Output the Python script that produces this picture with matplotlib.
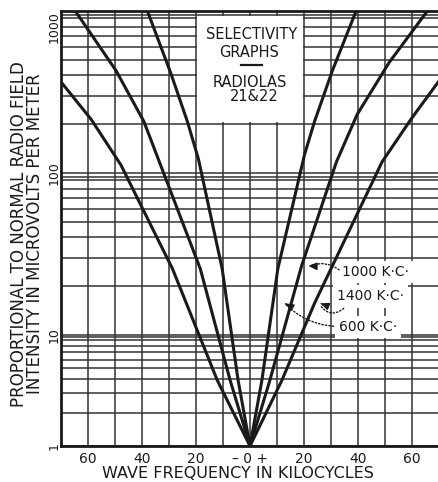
import numpy as np
import matplotlib
matplotlib.use("Agg")
import matplotlib.pyplot as plt
from matplotlib.ticker import FixedLocator, NullFormatter
from matplotlib.patches import Rectangle

# kilocycles off resonance  vs  field needed (microvolts per meter)
kc_600 = [-38.0, -29.4, -23.2, -19.1, -10.3, -4.4, 0, 4.4, 10.3, 20.2, 23.9, 30.5, 39.3]
uv_600 = [1000, 416, 208, 122, 25.6, 3.9, 1, 3.9, 25.6, 130, 208, 428, 1000]

kc_1000 = [-64.7, -49.6, -39.3, -18.4, -7.35, 0, 7.35, 19.1, 32.0, 39.7, 51.5, 65.4]
uv_1000 = [1000, 428, 208, 25.6, 3.9, 1, 3.9, 26.7, 117, 230, 480, 985]

kc_1400 = [-70.0, -58.8, -47.8, -28.7, -12.1, 0, 11.8, 23.9, 48.9, 59.9, 70.0]
uv_1400 = [365, 214, 112, 25.6, 3.9, 1, 3.9, 15.7, 117, 218, 370]

xtick_pos = [-60, -40, -20, 0, 20, 40, 60]
xtick_lab = ["60", "40", "20", "\u2013 0 +", "20", "40", "60"]
ytick_pos = [1, 10, 100, 1000]
ytick_lab = ["1", "10", "100", "1000"]

# the bottom decade of the printed grid is squashed compared to the others
squeeze = 111 / 162.0


def fwd(v):
    t = np.log10(np.clip(v, 1e-6, None))
    return np.where(t >= 1, t, 1 + (t - 1) * squeeze)


def inv(u):
    u = np.asarray(u, dtype=float)
    return np.where(u >= 1, 10.0 ** u, 10.0 ** (1 + (u - 1) / squeeze))


ink = "#1a1a1a"
grid_c = "#333333"

fig = plt.figure(figsize=(4.39, 4.82), dpi=100)
ax = fig.add_axes([61 / 439, 1 - 446 / 482, 1 - 61 / 439, (446 - 11) / 482])

ax.set_yscale("function", functions=(fwd, inv))
ax.set_xlim(-70, 70)
ax.set_ylim(1, 1000)

# grid
minor_y = [d * s for d in (1, 10, 100) for s in (2, 3, 4, 5, 6, 7, 8, 9, 9.5)]
ax.yaxis.set_major_locator(FixedLocator(ytick_pos))
ax.yaxis.set_minor_locator(FixedLocator(minor_y))
ax.yaxis.set_minor_formatter(NullFormatter())
ax.set_yticklabels(ytick_lab, rotation=90, va="center", fontsize=9, color=ink)
ax.get_yticklabels()[-1].set_va("top")

ax.xaxis.set_major_locator(FixedLocator(xtick_pos))
ax.xaxis.set_minor_locator(FixedLocator([-70, -50, -30, -10, 10, 30, 50, 70]))
ax.set_xticklabels(xtick_lab, fontsize=10, color=ink)

ax.tick_params(which="both", length=0)
ax.tick_params(axis="x", pad=4)
ax.tick_params(axis="y", pad=0)
ax.set_axisbelow(True)
ax.grid(which="both", color=grid_c, lw=1.1)

for side in ("left", "bottom", "top", "right"):
    ax.spines[side].set_linewidth(2.0)
    ax.spines[side].set_color(ink)

# curves
for kc, uv in ((kc_600, uv_600), (kc_1000, uv_1000), (kc_1400, uv_1400)):
    ax.plot(kc, uv, color=ink, lw=2.2, solid_joinstyle="round", zorder=3)

# title panel (blank patch over the grid)
ax.add_patch(Rectangle((-19.5, 205), 39, 725, facecolor="white", edgecolor="none", zorder=1))
tkw = dict(transform=ax.transAxes, ha="center", va="baseline", fontsize=10.5, color=ink, zorder=4)
ax.text(0.505, 0.9345, "SELECTIVITY", **tkw)
ax.text(0.497, 0.894, "GRAPHS", **tkw)
ax.text(0.500, 0.825, "RADIOLAS", **tkw)
ax.text(0.510, 0.792, "21&22", **tkw)
ax.plot([0.476, 0.532], [0.876, 0.876], transform=ax.transAxes, color=ink, lw=1.6, zorder=4)

# curve labels with dotted leaders
bb = dict(boxstyle="square,pad=0.3", facecolor="white", edgecolor="none")
lkw = dict(ha="left", va="baseline", fontsize=10, color=ink, zorder=4, bbox=bb)
ax.text(34.2, 23.2, "1000 K\u00b7C\u00b7", **lkw)
ax.text(32.3, 16.35, "1400 K\u00b7C\u00b7", **lkw)
ax.text(32.9, 10.6, "600 K\u00b7C\u00b7", **lkw)

akw = dict(arrowstyle="-", linestyle=(0, (1, 1.5)), color=ink, lw=1.0)
ax.annotate("", xy=(22.0, 26.7), xytext=(33.8, 24.6),
            arrowprops=dict(connectionstyle="arc3,rad=0.3", **akw), zorder=5)
ax.annotate("", xy=(25.5, 15.7), xytext=(35.5, 15.0),
            arrowprops=dict(connectionstyle="arc3,rad=-0.6", **akw), zorder=5)
ax.annotate("", xy=(12.5, 15.9), xytext=(32.0, 11.3),
            arrowprops=dict(connectionstyle="arc3,rad=-0.2", **akw), zorder=5)
hkw = dict(arrowstyle="-|>,head_length=0.5,head_width=0.22", color=ink, lw=1.0)
ax.annotate("", xy=(21.6, 26.7), xytext=(23.6, 26.6), arrowprops=hkw, zorder=5)
ax.annotate("", xy=(25.1, 15.9), xytext=(27.3, 15.4), arrowprops=hkw, zorder=5)
ax.annotate("", xy=(12.1, 16.0), xytext=(14.1, 15.3), arrowprops=hkw, zorder=5)

# axis titles
fig.text(237.5 / 439, 1 - 481 / 482, "WAVE FREQUENCY IN KILOCYCLES",
         ha="center", va="bottom", fontsize=11.5, color=ink)
fig.text(27 / 439, 1 - 234 / 482,
         "PROPORTIONAL TO NORMAL RADIO FIELD\nINTENSITY IN MICROVOLTS PER METER",
         ha="center", va="center", rotation=90, multialignment="center",
         linespacing=0.86, fontsize=12, color=ink)

fig.savefig("out.png", dpi=100, facecolor="white")
